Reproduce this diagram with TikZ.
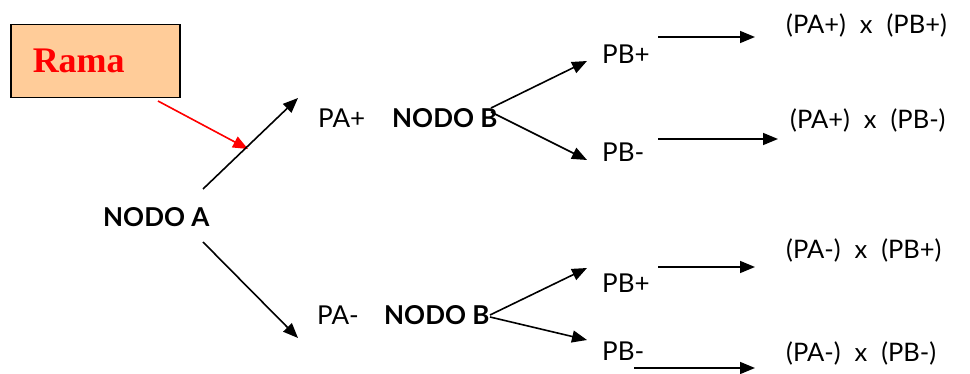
\documentclass[tikz,border=0pt]{standalone}
\usepackage{fontspec}
\setmainfont{Lato}
\newfontfamily\serfont{Liberation Serif}
\usetikzlibrary{arrows.meta}
\definecolor{peach}{HTML}{FFCC99}
\begin{document}
\begin{tikzpicture}[x=1pt,y=-1pt,
  lbl/.style={inner sep=0,anchor=base west,font=\fontsize{26}{30}\selectfont},
  boldlbl/.style={inner sep=0,anchor=base west,font=\fontsize{26}{30}\selectfont\bfseries},
  res/.style={inner sep=0,anchor=base west,font=\fontsize{25.5}{30}\selectfont},
  arr/.style={line width=1.6pt,-{Triangle[length=15pt,width=12pt]}},
  redarr/.style={arr,red},
  ]
\useasboundingbox (0,0) rectangle (970,374);

% Rama box
\node[draw,line width=1.5pt,fill=peach,anchor=north west,minimum width=169pt,
      minimum height=73pt,inner xsep=22pt,text width=125pt,align=left,
      font=\serfont\fontsize{36}{40}\selectfont\bfseries,text=red] (rama) at (10,24) {Rama};

% labels
\node[boldlbl] (nodoA) at (103,227) {NODO A};
\node[lbl] (paplus) at (318,128) {PA+};
\node[boldlbl] (nodoB1) at (392,128) {NODO B};
\node[lbl] (paminus) at (317,325) {PA-};
\node[boldlbl] (nodoB2) at (384,325) {NODO B};
\node[lbl] (pb1) at (602,64) {PB+};
\node[lbl] (pb2) at (602,162) {PB-};
\node[lbl] (pb3) at (602,293) {PB+};
\node[lbl] (pb4) at (602,360) {PB-};
\node[res] (r1) at (786,34) {(PA+)\hspace{14pt}x\hspace{14pt}(PB+)};
\node[res] (r2) at (790,129) {(PA+)\hspace{14pt}x\hspace{14pt}(PB-)};
\node[res] (r3) at (786,259) {(PA-)\hspace{14pt}x\hspace{14pt}(PB+)};
\node[res] (r4) at (786,361) {(PA-)\hspace{14pt}x\hspace{14pt}(PB-)};

% connector ends
\coordinate (rs) at (158,101);  \coordinate (re) at (248,149);
\coordinate (a1s) at (203,189); \coordinate (a1e) at (298,98);
\coordinate (a2s) at (203,242); \coordinate (a2e) at (298,338);
\coordinate (b1s) at (491,108); \coordinate (b1e) at (587,61);
\coordinate (b2s) at (491,112); \coordinate (b2e) at (587,160);
\coordinate (b3s) at (490,315); \coordinate (b3e) at (587,268);
\coordinate (b4s) at (490,317); \coordinate (b4e) at (587,340);
\coordinate (c1s) at (658,37);  \coordinate (c1e) at (755,37);
\coordinate (c2s) at (658,139); \coordinate (c2e) at (778,139);
\coordinate (c3s) at (658,267); \coordinate (c3e) at (755,267);
\coordinate (c4s) at (634,368); \coordinate (c4e) at (755,368);

\draw[redarr] (rs) -- (re);
\draw[arr] (a1s) -- (a1e);
\draw[arr] (a2s) -- (a2e);
\draw[arr] (b1s) -- (b1e);
\draw[arr] (b2s) -- (b2e);
\draw[arr] (b3s) -- (b3e);
\draw[arr] (b4s) -- (b4e);
\draw[arr] (c1s) -- (c1e);
\draw[arr] (c2s) -- (c2e);
\draw[arr] (c3s) -- (c3e);
\draw[arr] (c4s) -- (c4e);
\end{tikzpicture}
\end{document}
